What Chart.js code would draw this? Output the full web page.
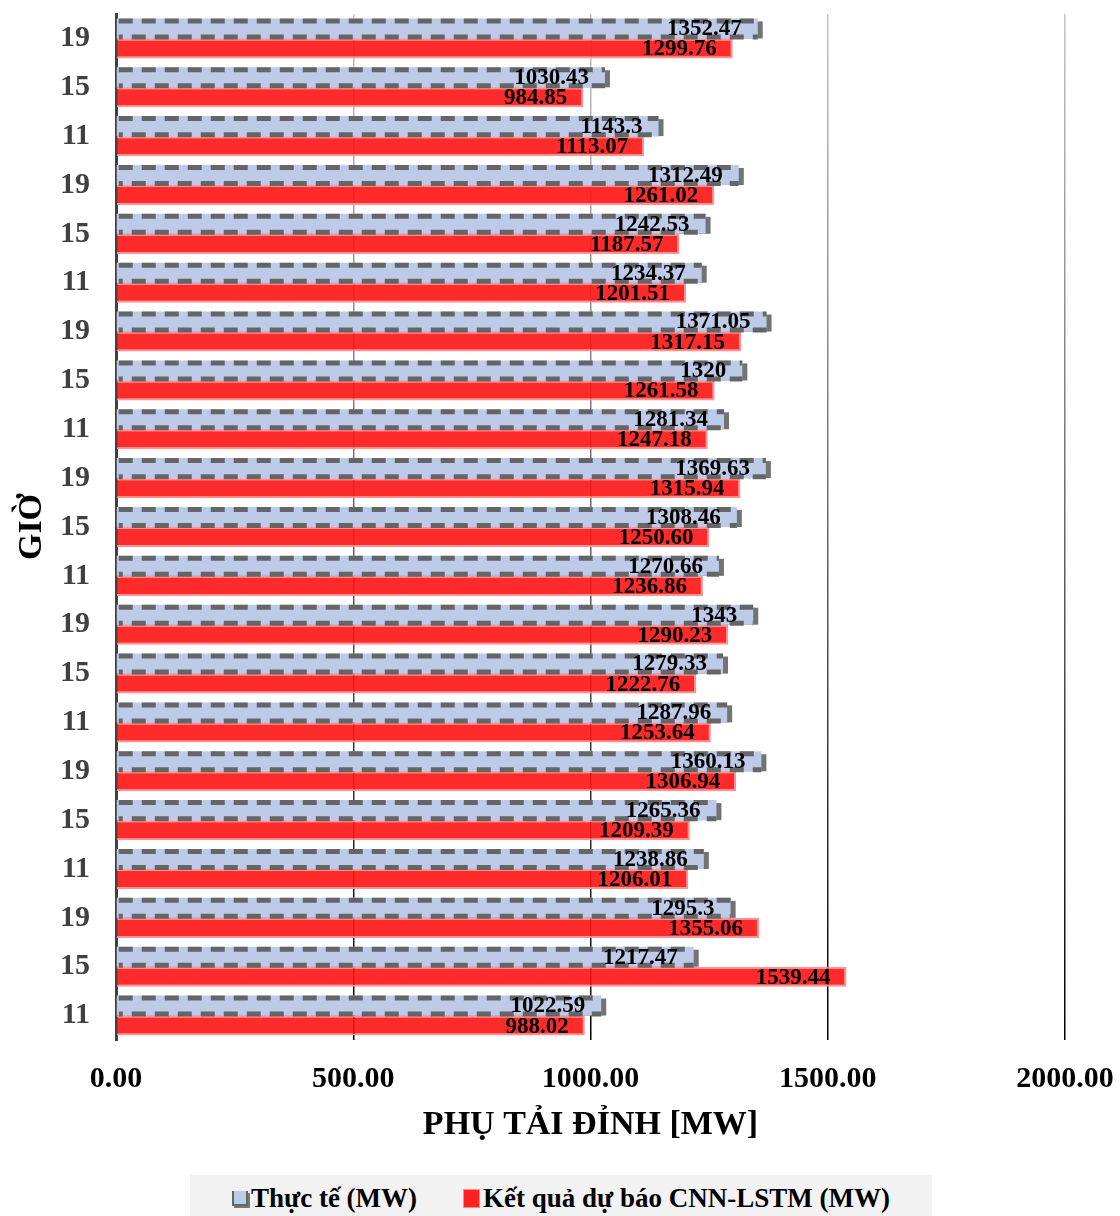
<!DOCTYPE html>
<html>
<head>
<meta charset="utf-8">
<script src="https://cdn.jsdelivr.net/npm/chart.js@4.4.1/dist/chart.umd.min.js"></script>
<style>
  html, body { margin: 0; padding: 0; background: #fff; }
  #wrap { position: relative; width: 1120px; height: 1216px; overflow: hidden; }
  #legend {
    position: absolute; left: 190px; top: 1175px; width: 742px; height: 50px;
    background: #f2f2f2; display: flex; justify-content: center; align-items: flex-start;
    font-family: 'Liberation Serif', 'Times New Roman', serif; font-weight: bold; font-size: 27px; color: #000;
  }
  .item { display: flex; align-items: center; margin-top: 8px; }
  .sw { margin-right: 3px; }
  .sw.blue { background: #bccbe8; border: 2px solid #666; border-top-width: 0; box-shadow: 2px 2px 0 #777; width: 12px; height: 13px; }
  .sw.red { background: #ff2020; border: 1px solid #ff8a8a; width: 15px; height: 17px; }
</style>
</head>
<body>
<div id="wrap">
  <canvas id="c" width="1120" height="1216"></canvas>
  <div id="legend">
    <div class="item" style="margin-right:46px"><div class="sw blue"></div><span id="l0"></span></div>
    <div class="item"><div class="sw red"></div><span id="l1"></span></div>
  </div>
</div>
<script>
// ---- data (top to bottom) ----
const categories = ['19','15','11','19','15','11','19','15','11','19','15','11','19','15','11','19','15','11','19','15','11'];
const actual = [1352.47, 1030.43, 1143.3, 1312.49, 1242.53, 1234.37, 1371.05, 1320, 1281.34, 1369.63, 1308.46, 1270.66, 1343, 1279.33, 1287.96, 1360.13, 1265.36, 1238.86, 1295.3, 1217.47, 1022.59];
const forecast = [1299.76, 984.85, 1113.07, 1261.02, 1187.57, 1201.51, 1317.15, 1261.58, 1247.18, 1315.94, 1250.60, 1236.86, 1290.23, 1222.76, 1253.64, 1306.94, 1209.39, 1206.01, 1355.06, 1539.44, 988.02];
const seriesNames = ['Thực tế (MW)', 'Kết quả dự báo CNN-LSTM (MW)'];
const xTickLabels = ['0.00', '500.00', '1000.00', '1500.00', '2000.00'];
const xTitle = 'PHỤ TẢI ĐỈNH [MW]';
const yTitle = 'GIỜ';

document.getElementById('l0').textContent = seriesNames[0];
document.getElementById('l1').textContent = seriesNames[1];

const FONT = "'Liberation Serif', 'Times New Roman', serif";

const blueDecor = {
  id: 'blueDecor',
  beforeDatasetDraw(chart, args) {
    if (args.index !== 0) return;
    const ctx = chart.ctx;
    const meta = chart.getDatasetMeta(0);
    ctx.save();
    ctx.fillStyle = 'rgba(100,100,100,0.9)';
    meta.data.forEach(el => {
      const top = el.y - el.height / 2;
      ctx.fillRect(el.base + 2, top + 3, el.x - el.base + 3, el.height - 3);
    });
    ctx.restore();
  },
  afterDatasetDraw(chart, args) {
    if (args.index !== 0) return;
    const ctx = chart.ctx;
    const meta = chart.getDatasetMeta(0);
    ctx.save();
    ctx.strokeStyle = 'rgba(90,90,90,0.9)';
    ctx.lineWidth = 5;
    ctx.setLineDash([14, 9]);
    meta.data.forEach(el => {
      const top = el.y - el.height / 2;
      const bot = el.y + el.height / 2;
      ctx.lineDashOffset = 0;
      ctx.beginPath(); ctx.moveTo(el.base + 2, top + 2.5); ctx.lineTo(el.x, top + 2.5); ctx.stroke();
      ctx.lineDashOffset = 10;
      ctx.beginPath(); ctx.moveTo(el.base + 2, bot - 1.5); ctx.lineTo(el.x, bot - 1.5); ctx.stroke();
    });
    ctx.restore();
  }
};

const valueLabels = {
  id: 'valueLabels',
  afterDatasetsDraw(chart) {
    const ctx = chart.ctx;
    ctx.save();
    ctx.font = 'bold 23px ' + FONT;
    ctx.fillStyle = '#000';
    ctx.textAlign = 'right';
    ctx.textBaseline = 'middle';
    [0, 1].forEach(di => {
      const meta = chart.getDatasetMeta(di);
      const vals = chart.data.datasets[di].data;
      meta.data.forEach((el, i) => {
        const txt = di === 0 ? String(vals[i]) : vals[i].toFixed(2);
        ctx.fillText(txt, el.x - 16, el.y + 1);
      });
    });
    ctx.restore();
  }
};

function gridColor(c) {
  const chart = c.chart;
  const area = chart.chartArea;
  if (!area) return '#666';
  const g = chart.ctx.createLinearGradient(0, area.top, 0, area.bottom);
  g.addColorStop(0, '#c4c4c4');
  g.addColorStop(0.45, '#707070');
  g.addColorStop(1, '#000000');
  return g;
}

new Chart(document.getElementById('c'), {
  type: 'bar',
  data: {
    labels: categories,
    datasets: [
      {
        label: seriesNames[0], data: actual,
        backgroundColor: '#bdcbe8', borderWidth: 0,
        categoryPercentage: 0.82, barPercentage: 1.0
      },
      {
        label: seriesNames[1], data: forecast,
        backgroundColor: 'rgba(255,20,20,0.9)', borderColor: 'rgba(255,140,140,0.95)', borderWidth: 2,
        categoryPercentage: 0.82, barPercentage: 1.0
      }
    ]
  },
  options: {
    indexAxis: 'y',
    responsive: false,
    animation: false,
    devicePixelRatio: 1,
    layout: { padding: { left: 0, top: 14, right: 55, bottom: 66 } },
    plugins: { legend: { display: false }, tooltip: { enabled: false } },
    scales: {
      x: {
        min: 0, max: 2000, z: 1,
        afterFit(s) { s.height = 110; s.paddingLeft = 0; s.paddingRight = 0; },
        ticks: {
          stepSize: 500, padding: 21, color: '#000',
          font: { family: FONT, size: 30, weight: 'bold' },
          callback: (v, i) => xTickLabels[i]
        },
        grid: { color: gridColor, lineWidth: 1.5, drawTicks: false },
        border: { display: false },
        title: {
          display: true, text: xTitle, color: '#000',
          font: { family: FONT, size: 34, weight: 'bold' },
          padding: { top: 0, bottom: 4 }
        }
      },
      y: {
        afterFit(s) { s.width = 116; s.paddingTop = 0; s.paddingBottom = 0; },
        ticks: {
          padding: 26, color: '#404040',
          font: { family: FONT, size: 30, weight: 'bold' }
        },
        grid: { display: false, drawTicks: false },
        border: { display: true, color: '#404040', width: 3 },
        title: {
          display: true, text: yTitle, color: '#000',
          font: { family: FONT, size: 34, weight: 'bold' },
          padding: { top: 12, bottom: 0 }
        }
      }
    }
  },
  plugins: [blueDecor, valueLabels]
});
</script>
</body>
</html>
